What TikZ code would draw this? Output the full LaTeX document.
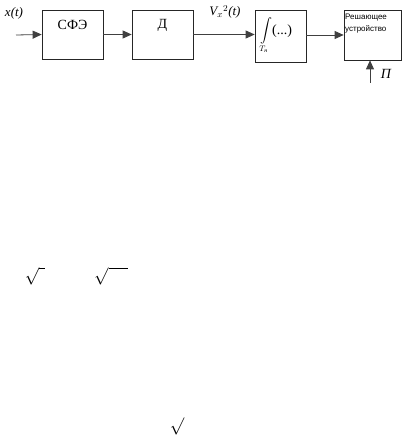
\documentclass[tikz,border=0pt]{standalone}
\usepackage{amsmath}
\usepackage{fontspec}
\setmainfont{Liberation Serif}
\newfontfamily\blksans{Liberation Sans}
\usetikzlibrary{arrows.meta,positioning}

\tikzset{
  blk/.style={draw=black!85, line width=0.7pt, minimum width=61pt, minimum height=49pt, inner sep=0pt},
  sig/.style={draw=black!75, line width=0.8pt, -{Triangle[length=9pt,width=8pt]}},
  lbl/.style={font=\itshape\fontsize{13}{14}\selectfont, inner sep=0pt}
}

\begin{document}
\begin{tikzpicture}[x=1pt, y=-1pt]
\useasboundingbox (0,0) rectangle (409,435);

% Blocks
\node[blk] (sfe) at (72.5,34.5) {};
\node[font=\fontsize{14}{15}\selectfont, inner sep=0pt] (sfetxt) at (72.5,25) {СФЭ};

\node[blk] (det) at (162.5,34.5) {};
\node[font=\fontsize{14}{15}\selectfont, inner sep=0pt] (dettxt) at (162.5,25) {Д};

\node[blk, minimum width=51pt, minimum height=52pt] (integ) at (280.5,36) {};
\node[inner sep=0pt, anchor=west, font=\fontsize{12}{13}\selectfont] (integtxt) at (260,36)
  {$\displaystyle\int\limits_{T_{\text{\itshape н}}}\!\text{\fontsize{14}{15}\selectfont(...)}$};

\node[blk, minimum width=57pt, minimum height=50pt] (rs) at (372.5,35) {};
\node[font=\blksans\fontsize{8}{12}\selectfont, align=left, inner sep=0pt, anchor=north west] (rstxt)
  at (345,14) {Решающее\\устройство};

% Signals
\coordinate (in) at (16,35);
\coordinate (pin) at (370,83);
\draw[sig] (in) -- (sfe.west);
\draw[sig] (sfe.east) -- (det.west);
\draw[sig] (det.east) -- (det.east -| integ.west);
\draw[sig] (integ.east |- rs.west) -- (rs.west);
\draw[sig] (pin) -- (pin |- rs.south);

% Labels
\node[lbl] (xt) at (14,13) {x(t)};
\node[lbl] (vx) at (225,12) {V$_x$$^2$(t)};
\node[lbl, font=\itshape\fontsize{14}{15}\selectfont] (pp) at (386,74) {П};

% Stray roots
\node[inner sep=0pt, font=\fontsize{17}{18}\selectfont] (r1) at (35,276) {$\sqrt{\phantom{i}}$};
\node[inner sep=0pt, font=\fontsize{17}{18}\selectfont] (r2) at (111,276) {$\sqrt{\phantom{xx}}$};
\node[inner sep=0pt, font=\fontsize{16}{17}\selectfont] (r3) at (177,426) {$\surd$};

\end{tikzpicture}
\end{document}
